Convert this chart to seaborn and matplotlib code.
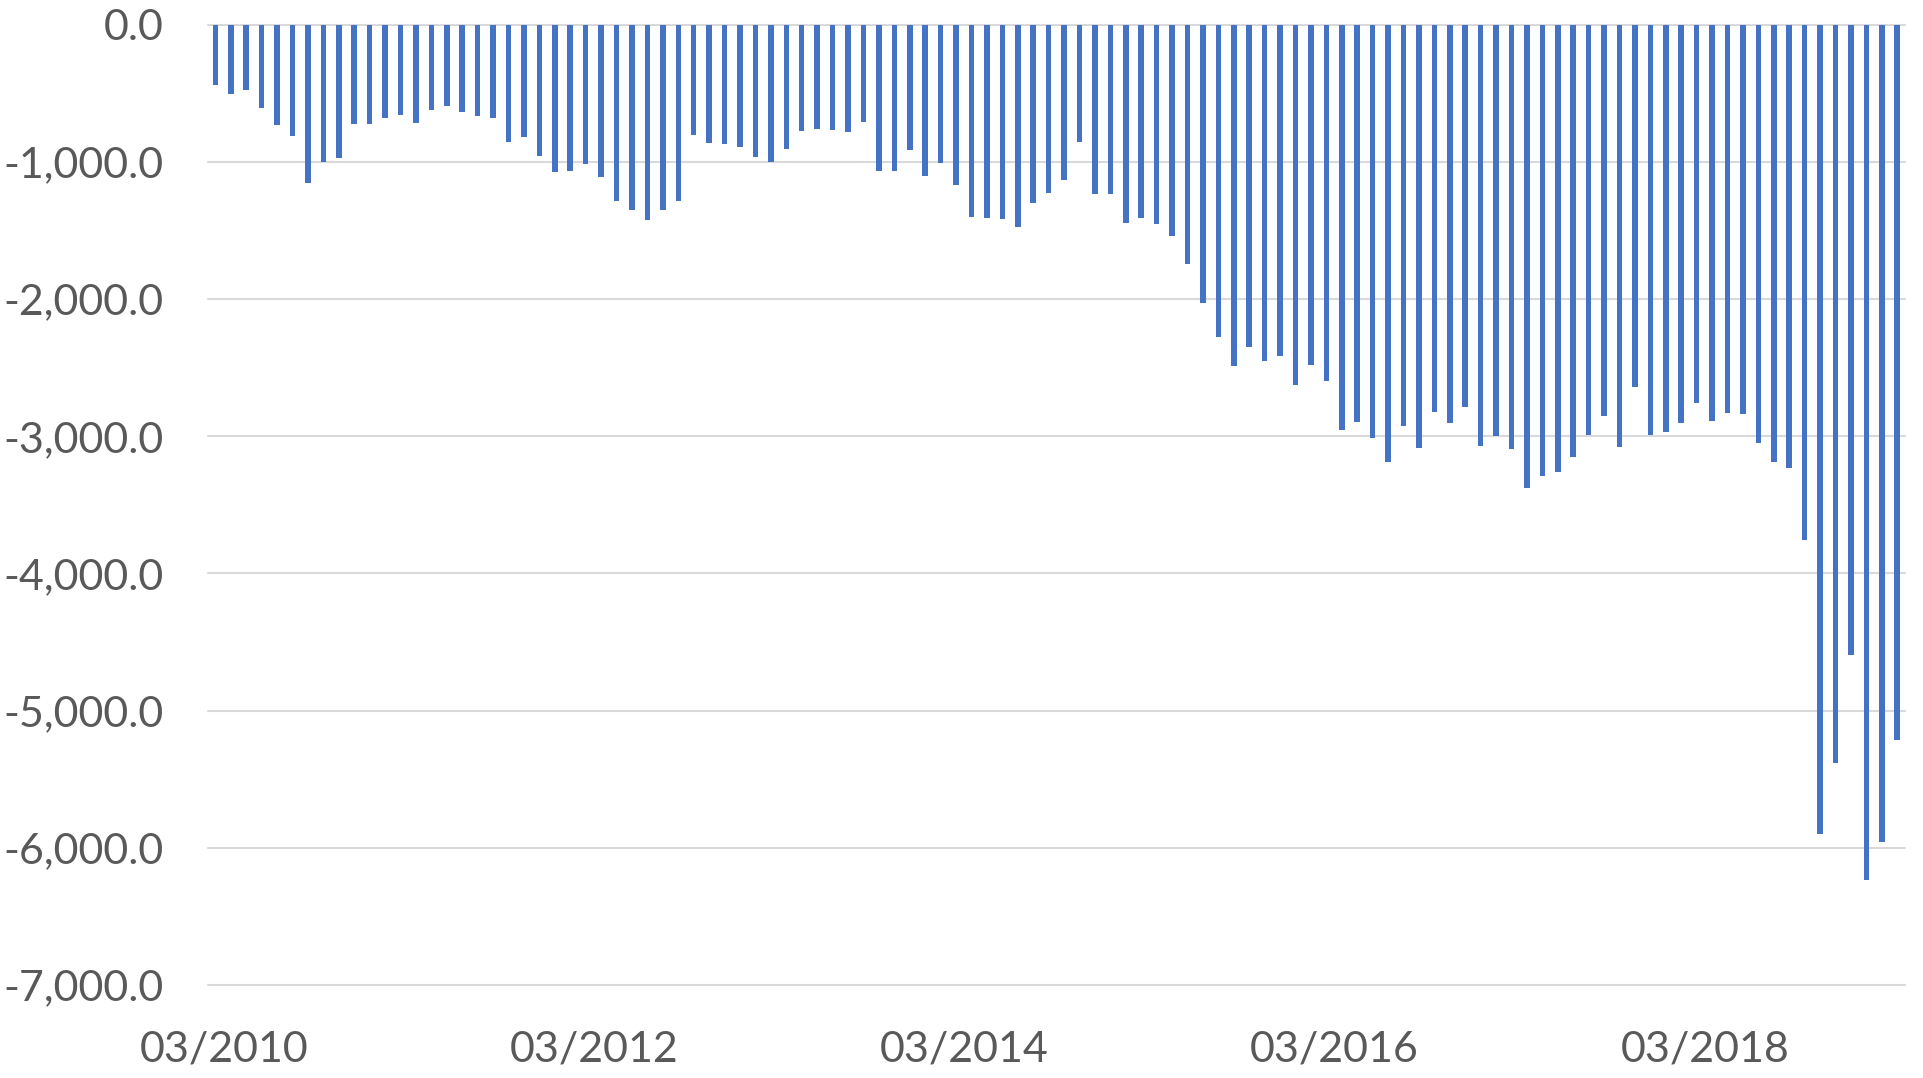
import numpy  as np
import pandas as pd
import matplotlib
matplotlib.use("Agg")
import matplotlib.pyplot    as plt
import matplotlib.transforms as mtransforms
import seaborn              as sns

# --------------------------------------------------------------------------------
# Data (monthly values, 03/2010 onwards)
# --------------------------------------------------------------------------------
START_MONTH = "2010-03-01"
values = [
    -438, -504, -479, -606, -730, -810, -1153, -1000, -971, -723,
    -723, -679, -657, -715, -620, -591, -635, -664, -679, -854,
    -818, -955, -1073, -1066, -1015, -1109, -1285, -1350, -1423, -1350,
    -1285, -803, -861, -869, -891, -964, -1000, -905, -774, -759,
    -766, -781, -708, -1066, -1066, -912, -1102, -1007, -1168, -1401,
    -1409, -1416, -1474, -1299, -1226, -1131, -854, -1234, -1234, -1445,
    -1409, -1453, -1540, -1745, -2025, -2275, -2491, -2352, -2454, -2418,
    -2624, -2479, -2600, -2952, -2898, -3015, -3185, -2927, -3082, -2825,
    -2905, -2789, -3073, -3000, -3090, -3379, -3287, -3258, -3149, -2988,
    -2850, -3076, -2639, -2988, -2966, -2901, -2755, -2886, -2828, -2835,
    -3046, -3188, -3234, -3753, -5900, -5385, -4598, -6234, -5958, -5213,
]
months   = pd.date_range(START_MONTH, periods=len(values), freq="MS")
y_ticks  = [0, -1000, -2000, -3000, -4000, -5000, -6000, -7000]
TICK_EVERY = 24  # label every second March

df = pd.DataFrame({"month": months.strftime("%m/%Y"), "value": values})

# --------------------------------------------------------------------------------
# Figure
# --------------------------------------------------------------------------------
sns.set_style("white")
plt.rcParams["font.family"] = ["Lato", "DejaVu Sans"]

BLUE      = "#4472C4"
GRID      = "#D9D9D9"
TEXT      = "#595959"
FONT_SIZE = 31

fig = plt.figure(figsize=(19.23, 10.78), dpi=100)
ax  = fig.add_axes([0.108, 0.0863, 0.8826, 0.8907])

sns.barplot(data=df, x="month", y="value", color=BLUE, width=0.36,
            saturation=1, linewidth=0, ax=ax, zorder=3)

ax.set_xlim(-0.5, len(values) - 0.5)
ax.set_ylim(-7000, 0)
ax.set_yticks(y_ticks)
ax.set_yticklabels([f"{v:,.1f}" for v in y_ticks])

tick_pos = list(range(0, len(values), TICK_EVERY))
ax.set_xticks(tick_pos)
ax.set_xticklabels([df["month"][i] for i in tick_pos])

ax.grid(axis="y", color=GRID, linewidth=1.5, zorder=0)
ax.set_axisbelow(True)
for gl in ax.get_ygridlines(): gl.set_clip_on(False)
sns.despine(ax=ax, left=True, bottom=True)

ax.set_xlabel(""); ax.set_ylabel("")
ax.tick_params(axis="y", length=0, pad=32, labelsize=FONT_SIZE, labelcolor=TEXT)
ax.tick_params(axis="x", length=0, pad=33, labelsize=FONT_SIZE, labelcolor=TEXT)

# Nudge date labels slightly right (as in the original)
shift = mtransforms.ScaledTranslation(6 / 72, 0, fig.dpi_scale_trans)
for lbl in ax.get_xticklabels():
    lbl.set_transform(lbl.get_transform() + shift)

fig.savefig("out.png", dpi=100)
